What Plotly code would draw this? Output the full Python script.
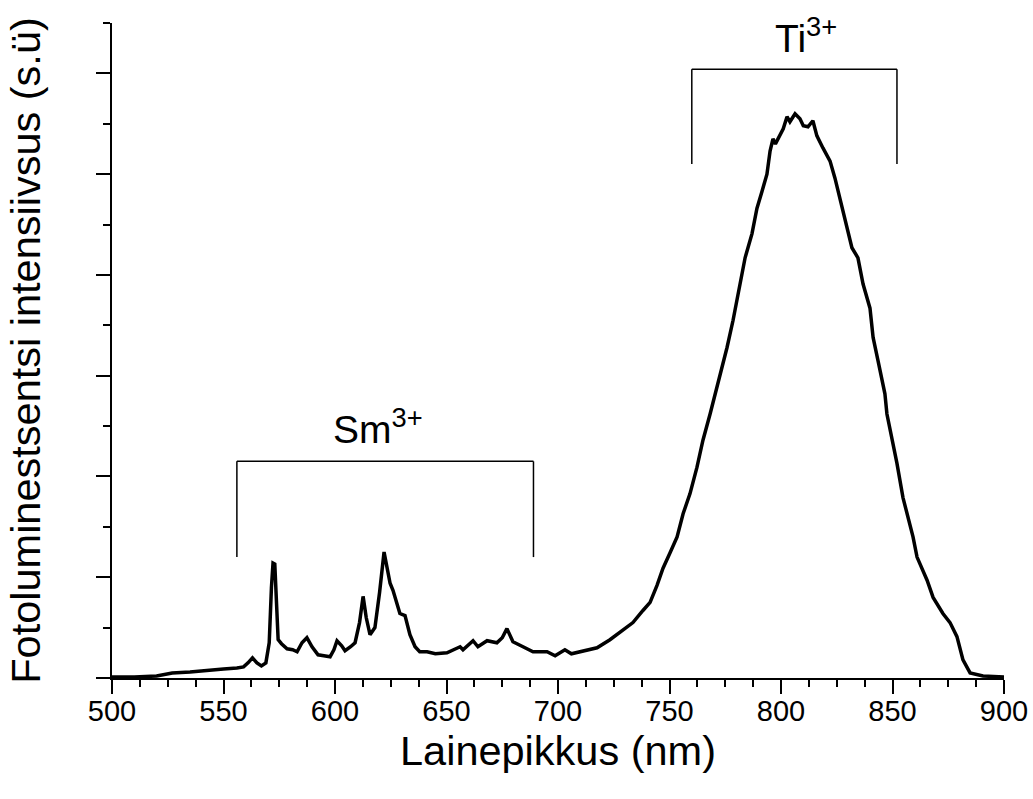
import plotly.graph_objects as go

# Wavelength (nm) and photoluminescence intensity (arb. units)
wavelength = [500, 510, 520, 527, 535, 543, 550, 556, 559, 561, 563, 565, 567, 569,
              570.5, 571.5, 572.2, 573, 573.8, 574.5, 576, 578.5, 581, 583, 585.2,
              587.4, 589.7, 592.4, 595, 597.8, 599.5, 600.9, 603, 604.5, 607, 609,
              611, 612.6, 614, 615.7, 617.9, 620, 622.0, 623.5, 624.7, 626.0, 627.5,
              629.1, 631.4, 633.6, 635.9, 638, 641.3, 645, 650.2, 656.1, 657.4, 661.9,
              664.1, 668.2, 672.6, 675, 677.1, 679.8, 684.3, 688.8, 692, 695.1, 698.7,
              703.1, 706, 709.9, 717.5, 723.3, 729.1, 733.6, 738.1, 741.3, 744.4, 747.1,
              750.2, 753.4, 756.1, 759.2, 762.3, 765.0, 768.2, 771.3, 775.8, 778.5,
              781.6, 783.9, 787.0, 789.2, 791.5, 793.7, 795.1, 796.4, 797.5, 799.6,
              801, 802.7, 804, 806.3, 808.5, 810, 812.1, 814.3, 816.1, 818.8, 822.0,
              824.2, 826.5, 828.7, 831.8, 834.5, 836.8, 839.9, 841.3, 843.5, 846.6,
              847.5, 852.0, 854.7, 859.2, 861.0, 865.5, 868.2, 872.6, 875.8, 878.9,
              881.6, 884.8, 890.6, 898.2, 900]
intensity = [0.01, 0.01, 0.02, 0.05, 0.06, 0.08, 0.09, 0.10, 0.11, 0.15, 0.20, 0.15, 0.12, 0.15,
             0.35, 0.90, 1.14, 1.13, 0.70, 0.38, 0.34, 0.29, 0.28, 0.26, 0.35,
             0.40, 0.31, 0.23, 0.22, 0.21, 0.28, 0.37, 0.32, 0.27, 0.31, 0.35,
             0.55, 0.81, 0.60, 0.43, 0.50, 0.85, 1.25, 1.10, 0.94, 0.87, 0.75,
             0.64, 0.62, 0.43, 0.31, 0.26, 0.26, 0.24, 0.25, 0.31, 0.28, 0.37,
             0.31, 0.37, 0.35, 0.40, 0.49, 0.36, 0.31, 0.26, 0.26, 0.26, 0.22,
             0.28, 0.24, 0.26, 0.30, 0.38, 0.48, 0.55, 0.67, 0.75, 0.92, 1.09,
             1.24, 1.40, 1.63, 1.83, 2.09, 2.36, 2.62, 2.88, 3.28, 3.55,
             3.91, 4.17, 4.41, 4.66, 4.83, 5.00, 5.23, 5.35, 5.30, 5.40,
             5.45, 5.57, 5.52, 5.60, 5.55, 5.48, 5.47, 5.53, 5.38, 5.26, 5.13,
             4.96, 4.76, 4.56, 4.27, 4.17, 3.91, 3.67, 3.38, 3.15, 2.82,
             2.62, 2.13, 1.79, 1.40, 1.20, 0.97, 0.80, 0.64, 0.55, 0.41,
             0.18, 0.05, 0.02, 0.01, 0.01]

x_ticks = [500, 550, 600, 650, 700, 750, 800, 850, 900]

# Bracket annotations (data coordinates)
sm_bracket_x = [556, 689]
sm_bracket_y = [1.2, 2.15]
ti_bracket_x = [760, 852]
ti_bracket_y = [5.1, 6.04]

fig = go.Figure()
fig.add_trace(go.Scatter(x=wavelength, y=intensity, mode="lines",
                         line=dict(color="black", width=3.5), showlegend=False))

font_family = "Liberation Sans, Arial, sans-serif"

for bx, by in [(sm_bracket_x, sm_bracket_y), (ti_bracket_x, ti_bracket_y)]:
    x0, x1 = bx
    y0, y1 = by
    for (a, b, c, d) in [(x0, y0, x0, y1), (x0, y1, x1, y1), (x1, y1, x1, y0)]:
        fig.add_shape(type="line", xref="x", yref="y", x0=a, y0=b, x1=c, y1=d,
                      line=dict(color="black", width=1.5))

fig.add_annotation(x=619.5, y=2.5, xref="x", yref="y", text="Sm<sup>3+</sup>",
                   showarrow=False, font=dict(family=font_family, size=39, color="black"))
fig.add_annotation(x=811, y=6.38, xref="x", yref="y", text="Ti<sup>3+</sup>",
                   showarrow=False, font=dict(family=font_family, size=39, color="black"))

fig.update_layout(
    width=1033, height=799,
    margin=dict(l=112, r=29, t=23, b=121, autoexpand=False),
    paper_bgcolor="white", plot_bgcolor="white",
    font=dict(family=font_family, color="black"),
    xaxis=dict(range=[500, 900], tickvals=x_ticks, ticktext=[str(v) for v in x_ticks],
               ticks="outside", ticklen=14, tickwidth=2, tickcolor="black",
               showline=True, linewidth=2, linecolor="black", showgrid=False, zeroline=False,
               tickfont=dict(size=29, family=font_family), automargin=False,
               ticklabelstandoff=-8,
               minor=dict(dtick=12.5, tick0=500, ticks="outside", ticklen=7, tickwidth=2,
                          tickcolor="black", showgrid=False),
               title=dict(text="Lainepikkus (nm)", font=dict(size=41.5, family=font_family),
                          standoff=0)),
    yaxis=dict(range=[0, 6.5], dtick=1, tick0=0, showticklabels=False, automargin=False,
               ticks="outside", ticklen=14, tickwidth=2, tickcolor="black",
               showline=True, linewidth=2, linecolor="black", showgrid=False, zeroline=False,
               minor=dict(dtick=0.5, tick0=0, ticks="outside", ticklen=7, tickwidth=2,
                          tickcolor="black", showgrid=False),
               title=dict(text="Fotoluminestsentsi intensiivsus (s.ü)",
                          font=dict(size=41.5, family=font_family), standoff=42)),
)

fig.write_html("out.html")
